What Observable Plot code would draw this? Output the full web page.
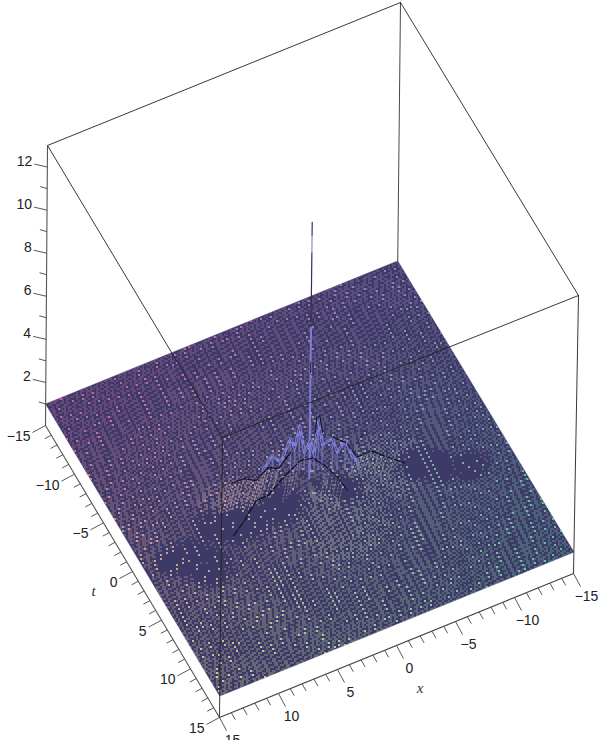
<!DOCTYPE html>
<html>
<head>
<meta charset="utf-8">
<style>html,body{margin:0;padding:0;background:#fff}svg{display:block}</style>
<script src="https://cdn.jsdelivr.net/npm/d3@7"></script>
<script src="https://cdn.jsdelivr.net/npm/@observablehq/plot@0.6"></script>
</head>
<body>
<div id="chart"></div>
<script>
// ---------- data, in plot units (x, t, z) ----------
const xTicks = [15,14,13,12,11,10,9,8,7,6,5,4,3,2,1,0,-1,-2,-3,-4,-5,-6,-7,-8,-9,-10,-11,-12,-13,-14,-15];
const tTicks = [-15,-14,-13,-12,-11,-10,-9,-8,-7,-6,-5,-4,-3,-2,-1,0,1,2,3,4,5,6,7,8,9,10,11,12,13,14,15];
const zTicks = [1,2,3,4,5,6,7,8,9,10,11,12];
const zBox = [0, 13];
const surfaceLevel = 1;
// long crests of the wave: [x, t, z]
const backCrestLeft = [[6.27,-.75,1.8],[5.18,-.74,1.8],[4.45,-.18,1.8],[3.11,-.86,1.8],[2.40,-.42,1.8],[.94,-1.35,1.8]];
const backCrestRight = [[-2.59,-1.18,1.8],[-3.30,-.22,1.8],[-3.41,1.27,1.8],[-4.67,1.27,1.8],[-5.45,2.26,1.8],[-6.43,3.36,1.8]];
const frontCrest = [[8.24,3.63,1.8],[6.88,2.75,1.8],[5.26,1.49,1.8],[4.24,1.46,1.8],[2.43,.49,1.8],[.58,-.36,1.8],[-.38,-.09,1.8],[-.88,.97,1.8],[-1.24,2.27,1.8],[-1.39,3.68,1.8]];
const sideCrest = [[-3.98,.11,1.8],[-5.04,-.70,1.8]];
// central jagged peaks
const peaks = [[2.87,-2.2,1],[2.19,-1.89,1.69],[1.65,-1.62,1.37],[.97,-1.29,2.48],[.69,-1.16,2.02],[.36,-.99,3.08],[.02,-.83,1.83],[-.39,-.63,2.39],[-.66,-.50,1.69],[-.93,-.37,3.5],[-1.21,-.24,2.16],[-1.89,.09,2.48],[-2.22,.26,1.83],[-2.77,.52,2.39],[-3.24,.75,1.69],[-3.65,.95,1.37]];
const peakOutline = [[-.73,-.47,2.76],[-.80,-.43,3.41],[-1.0,-.335,3.55],[-1.21,-.24,2.76]];
// crest points from which mesh lines run down the slope: [x, t]
const leftFan = [[6.6,-.8],[6.35,-.78],[6.05,-.76],[5.8,-.75],[5.5,-.75],[5.2,-.74],[4.95,-.55],[4.7,-.35],[4.45,-.18],[4.15,-.35],[3.85,-.5],[3.55,-.65],[3.25,-.8],[3.0,-.8],[2.75,-.6],[2.45,-.45],[2.1,-.8]];
const rightFan = [[-3.41,1.27],[-3.65,1.27],[-3.9,1.27],[-4.15,1.27],[-4.4,1.27],[-4.67,1.27],[-4.85,1.5],[-5.05,1.75],[-5.25,2.0],[-5.45,2.26],[-5.65,2.5],[-5.85,2.7]];
const frontFan = [[2.0,.3],[1.6,.1],[1.2,-.1],[.8,-.3],[-.9,1.0],[-1.0,1.4],[-1.1,1.8],[-1.2,2.2],[-1.25,2.6],[-1.3,3.0]];
// the tall central spike: [zLow, zHigh, part]
const spikeParts = [[1,8.05,"light"],[8.05,11.5,"dark"],[12.3,12.9,"dark"],[11.5,12.3,"mid"],[5.9,6.4,"dark"]];
// shading patches on the surface: [x, t, radius]
const shadedPatches = [[5.7,1.54,2.2],[3.06,1.28,2.2],[8.62,.63,1.8],[7.26,1.3,2.2],[11.28,2.63,2.4],[12.76,2.22,1.8],[10.58,3.8,2.4],[-9.42,3.24,2],[-8.07,2.58,2],[-11.46,4.23,1.8],[-2.08,1.94,1.7]];
const litPatches = [[6.1,.2,3.2],[-5.6,1.6,3.2],[-.6,4.5,3.6]];

// ---------- viewing box of the 3D plot ----------
const lowCorners  = {a:[45,425], b:[219,717], c:[573,573], d:[397,282]};
const highCorners = {a:[47,145], b:[222,437], c:[578,295], d:[400,2]};
function corner(cs,x,t){
  const s=(15-x)/30, r=(t+15)/30;
  return [0,1].map(i=>cs.a[i]*(1-s)*(1-r)+cs.d[i]*s*(1-r)+cs.b[i]*(1-s)*r+cs.c[i]*s*r);
}
function project(x,t,z){
  const l=corner(lowCorners,x,t), h=corner(highCorners,x,t), k=(z-zBox[0])/(zBox[1]-zBox[0]);
  return {sx:l[0]+(h[0]-l[0])*k, sy:l[1]+(h[1]-l[1])*k};
}
const P = a => project(a[0],a[1],a[2]);
const edge = (a,b) => [P(a),P(b)];

const surfacePoly = [[15,-15,1],[15,15,1],[-15,15,1],[-15,-15,1],[15,-15,1]].map(P);
const surfaceRing = surfacePoly.map(p=>[p.sx,p.sy]);

// ---------- surface mesh: mesh nodes land on a 2-pixel lattice, as in the rendered original ----------
const N = 160, pitch = 2;
const mix = d3.interpolateRgb;
const colAt = (x,t) => {
  const s=(15-x)/30, r=(t+15)/30;
  return mix(mix("#d866a8","#a084bc")(s), mix("#e2e296","#62d4a4")(s))(r);
};
const nearest = (list,x,t) => d3.min(list, p=>Math.hypot(x-p[0],t-p[1])/p[2]);
const cells = new Map();
for (let i=0;i<=N;i++) for (let j=0;j<=N;j++){
  const x=15-30*i/N, t=-15+30*j/N, p=project(x,t,surfaceLevel);
  // the surface is not quite flat: low rings around the centre bend the mesh
  const rad=Math.hypot(x,t), ang=Math.atan2(t,x);
  const bend=1.5*Math.sin(rad*.9+1.4*Math.sin(3*ang))+.8*Math.sin(.55*x-.4*t);
  const sx=p.sx+.55*bend, sy=p.sy-bend;
  const gx=pitch*Math.round(sx/pitch)+.5, gy=pitch*Math.round(sy/pitch)+.5;
  if (!d3.polygonContains(surfaceRing,[gx,gy])) continue;
  const d=Math.hypot(sx+.5-gx,sy+.5-gy);
  const n=nearest(shadedPatches,x,t);
  const f=Math.min(1,Math.max(0.3,(n-.3)/.7));
  if (d>0.9*f) continue;
  const lit=nearest(litPatches,x,t)<1;
  const o = d<0.26 ? .9 : lit ? .42 : .28;
  const key=gx+","+gy, old=cells.get(key);
  if (!old || old.o<o) cells.set(key,{sx:gx,sy:gy,c:colAt(x,t),o});
}
const mesh=[...cells.values()];

// mesh lines on the slopes under the crests
const streaks = (list,dx,dt) => list.map(([x,t])=>{
  const a=project(x,t,1.8), b=project(x+dx,t+dt,1);
  return {x1:a.sx,y1:a.sy,x2:b.sx,y2:b.sy,c:colAt(x,t)};
});
const walls = peaks.map(p=>{const a=P(p), b=project(p[0],p[1],1); return {x1:a.sx,y1:a.sy,x2:b.sx,y2:b.sy};});

// ---------- box ----------
const T=zBox[1], B=zBox[0];
const boxEdges = [
  edge([15,-15,T],[-15,-15,T]), edge([-15,-15,T],[-15,15,T]), edge([-15,15,T],[15,15,T]), edge([15,15,T],[15,-15,T]),
  edge([15,15,T],[15,15,B]), edge([-15,15,T],[-15,15,B])
];
const backPost = edge([-15,-15,T],[-15,-15,1]);
const zAxisLine = edge([15,-15,T],[15,-15,B]);
const tAxisLine = edge([15,-15,B],[15,15,B]);
const xAxisLine = edge([15,15,B],[-15,15,B]);

const zTickRows = zTicks.map(z=>{const p=project(15,-15,z), big=z%2===0; return {x1:p.sx,y1:p.sy,x2:p.sx-(big?13:7),y2:p.sy-(big?3:2)}});
const tTickRows = tTicks.map(t=>{const p=project(15,t,0), big=t%5===0; return {x1:p.sx,y1:p.sy,x2:p.sx-(big?13:6.5),y2:p.sy+(big?7:3.5)}});
const xTickRows = xTicks.map(x=>{const p=project(x,15,0), big=x%5===0; return {x1:p.sx,y1:p.sy,x2:p.sx+(big?7:4),y2:p.sy+(big?13:7)}});

const fmt = v => v<0 ? "\u2212"+(-v) : String(v);
const zLabels = zTicks.filter(z=>z%2===0).map(z=>({...project(15,-15,z),label:fmt(z)}));
const tLabels = tTicks.filter(t=>t%5===0).map(t=>({...project(15,t,0),label:fmt(t)}));
const xLabels = xTicks.filter(x=>x%5===0).map(x=>({...project(x,15,0),label:fmt(x)}));
const tTitle = [{...project(15,0,0),label:"t"}];
const xTitle = [{...project(-2,15,0),label:"x"}];

const seg = (pts,o) => Plot.line(pts,{x:"sx",y:"sy",curve:"linear",...o});
const spikeLine = (c,w) => spikeParts.filter(p=>p[2]===c).map(p=>
  seg(edge([0,0,p[0]],[0,0,p[1]]),{stroke:c==="light"?"#7e7ed6":c==="mid"?"#8c8ccc":"#33314f",strokeWidth:w})
);
const font = {fontFamily:"Liberation Sans, Arial, sans-serif",fontSize:14,fill:"#222"};
const titleFont = {fontFamily:"Liberation Serif, serif",fontSize:15,fontStyle:"italic",fill:"#333"};
const link = (d,o) => Plot.link(d,{x1:"x1",y1:"y1",x2:"x2",y2:"y2",...o});

const chart = Plot.plot({
  width:599, height:740, margin:0,
  style:{background:"#fff",overflow:"hidden"},
  x:{type:"linear",domain:[0,599],range:[0,599],axis:null},
  y:{type:"linear",domain:[0,740],range:[0,740],axis:null},
  marks:[
    Plot.line(surfacePoly,{x:"sx",y:"sy",fill:"#3e3a68",stroke:"#3e3a68",strokeWidth:0.5}),
    Plot.dot(mesh,{x:"sx",y:"sy",symbol:"square",r:0.6,fill:"c",fillOpacity:"o",stroke:null,shapeRendering:"crispEdges"}),
    link(streaks(leftFan,1.07,.82),{stroke:"c",strokeWidth:1,strokeDasharray:"2 1.5",strokeOpacity:.85}),
    link(streaks(rightFan,.66,0),{stroke:"c",strokeWidth:1,strokeDasharray:"2 1.5",strokeOpacity:.75}),
    link(streaks(frontFan,.8,.8),{stroke:"c",strokeWidth:1,strokeDasharray:"2 1.5",strokeOpacity:.6}),
    ...spikeLine("light",2),
    link(walls,{stroke:"#7e7ed6",strokeWidth:1.4,strokeOpacity:.65}),
    seg(peaks.map(P),{stroke:"#7e7ed6",strokeWidth:2.8}),
    seg(peaks.map(P),{stroke:"#2e2c50",strokeWidth:0.7,strokeDasharray:"4 5"}),
    seg(peakOutline.map(P),{stroke:"#15142a",strokeWidth:1.2}),
    seg(backCrestLeft.map(P),{stroke:"#111022",strokeWidth:1.2}),
    seg(backCrestRight.map(P),{stroke:"#111022",strokeWidth:1.2,strokeDasharray:"6 2"}),
    seg(frontCrest.map(P),{stroke:"#111022",strokeWidth:1.2,strokeDasharray:"7 2"}),
    seg(sideCrest.map(P),{stroke:"#111022",strokeWidth:0.9,strokeDasharray:"4 3"}),
    ...spikeLine("dark",1.2),
    ...spikeLine("mid",1.2),
    seg(backPost,{stroke:"#333",strokeWidth:0.9}),
    ...boxEdges.map(e=>seg(e,{stroke:"#222",strokeWidth:0.9})),
    seg(zAxisLine,{stroke:"#555",strokeWidth:1.1}),
    seg(tAxisLine,{stroke:"#555",strokeWidth:1.1}),
    seg(xAxisLine,{stroke:"#444",strokeWidth:1.1}),
    link(zTickRows,{stroke:"#444",strokeWidth:0.9}),
    link(tTickRows,{stroke:"#444",strokeWidth:0.9}),
    link(xTickRows,{stroke:"#444",strokeWidth:0.9}),
    Plot.text(zLabels,{x:"sx",y:"sy",text:"label",textAnchor:"end",dx:-15,dy:-6,...font}),
    Plot.text(tLabels,{x:"sx",y:"sy",text:"label",textAnchor:"end",dx:-15,dy:11,...font}),
    Plot.text(xLabels,{x:"sx",y:"sy",text:"label",textAnchor:"middle",dx:13,dy:23,...font}),
    Plot.text(tTitle,{x:"sx",y:"sy",text:"label",dx:-39,dy:20,...titleFont}),
    Plot.text(xTitle,{x:"sx",y:"sy",text:"label",dx:0,dy:52,...titleFont})
  ]
});
document.getElementById("chart").append(chart);
</script>
</body>
</html>
